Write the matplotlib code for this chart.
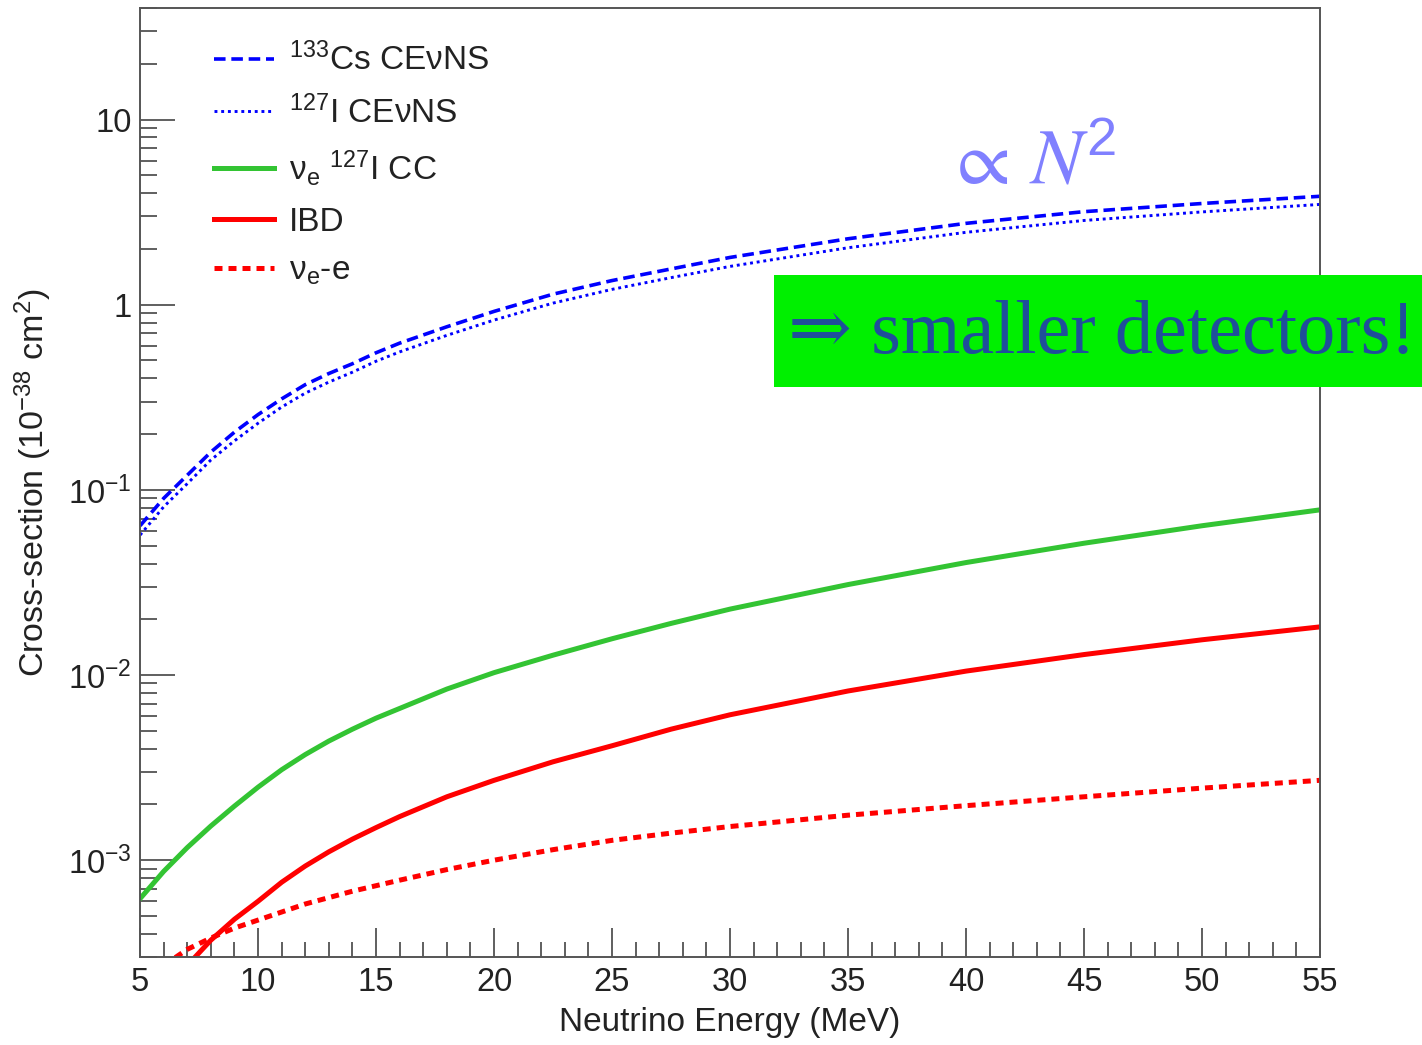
import matplotlib
matplotlib.use("Agg")
import matplotlib.pyplot as plt
from matplotlib.patches import Rectangle
from matplotlib.ticker import FixedLocator, LogLocator, MultipleLocator, NullFormatter

plt.rcParams['font.family'] = ['Liberation Sans', 'DejaVu Sans']
plt.rcParams['mathtext.fontset'] = 'custom'
plt.rcParams['mathtext.rm'] = 'Liberation Sans'
plt.rcParams['mathtext.it'] = 'Liberation Sans:italic'
plt.rcParams['mathtext.default'] = 'regular'

# cross-sections in units of 1e-38 cm^2 vs neutrino energy in MeV
energy = [5, 6, 7, 8, 9, 10, 11, 12, 13, 14, 15, 16, 18, 20, 22.5, 25, 27.5, 30,
          35, 40, 45, 50, 55]
cs_cevns = [0.064, 0.090, 0.120, 0.160, 0.205, 0.255, 0.31, 0.37, 0.425, 0.48, 0.55,
            0.62, 0.76, 0.92, 1.14, 1.35, 1.56, 1.80, 2.27, 2.75, 3.18, 3.52, 3.85]
i_cevns = [0.057, 0.081, 0.108, 0.145, 0.184, 0.229, 0.28, 0.333, 0.382, 0.432, 0.495,
           0.556, 0.683, 0.826, 1.02, 1.21, 1.40, 1.61, 2.03, 2.46, 2.85, 3.17, 3.48]
i_cc = [6.2e-4, 8.7e-4, 1.17e-3, 1.53e-3, 1.96e-3, 2.48e-3, 3.08e-3, 3.72e-3, 4.4e-3,
        5.1e-3, 5.85e-3, 6.6e-3, 8.4e-3, 1.03e-2, 1.28e-2, 1.57e-2, 1.9e-2, 2.27e-2,
        3.08e-2, 4.05e-2, 5.15e-2, 6.4e-2, 7.8e-2]

energy_ibd = [7, 8, 9, 10, 11, 12, 13, 14, 15, 16, 18, 20, 22.5, 25, 27.5, 30, 35, 40,
              45, 50, 55]
ibd = [2.7e-4, 3.7e-4, 4.8e-4, 6.0e-4, 7.6e-4, 9.3e-4, 1.11e-3, 1.3e-3, 1.5e-3, 1.72e-3,
       2.2e-3, 2.7e-3, 3.4e-3, 4.15e-3, 5.1e-3, 6.1e-3, 8.2e-3, 1.05e-2, 1.29e-2,
       1.55e-2, 1.82e-2]

energy_es = [6, 7, 8, 9, 10, 12, 14, 16, 18, 20, 22.5, 25, 27.5, 30, 35, 40, 45, 50, 55]
nue_e = [2.7e-4, 3.3e-4, 3.8e-4, 4.3e-4, 4.75e-4, 5.8e-4, 6.8e-4, 7.8e-4, 8.9e-4, 1.0e-3,
         1.14e-3, 1.28e-3, 1.40e-3, 1.52e-3, 1.75e-3, 1.97e-3, 2.2e-3, 2.45e-3, 2.7e-3]

ytick_vals = [1e-3, 1e-2, 1e-1, 1, 10]
ytick_labels = ['$10^{-3}$', '$10^{-2}$', '$10^{-1}$', '1', '10']

fig = plt.figure(figsize=(14.22, 10.45), dpi=100)
ax = fig.add_axes([0.0985, 0.0842, 0.8298, 0.9081])

ax.plot(energy, cs_cevns, color='#0000ff', lw=2.6, dashes=(3.2, 1.6),
        label=r'$^{133}$Cs CE$\nu$NS')
ax.plot(energy, i_cevns, color='#0000ff', lw=2.1, dashes=(1.0, 1.3),
        label=r'$^{127}$I CE$\nu$NS')
ax.plot(energy, i_cc, color='#33c433', lw=3.6, label=r'$\nu_e$ $^{127}$I CC')
ax.plot(energy_ibd, ibd, color='#ff0000', lw=3.6, label='IBD')
ax.plot(energy_es, nue_e, color='#ff0000', lw=3.6, dashes=(1.6, 1.2),
        label=r'$\nu_e$-e')

ax.set_yscale('log')
ax.set_xlim(5, 55)
ax.set_ylim(3.0e-4, 40)

ax.xaxis.set_major_locator(MultipleLocator(5))
ax.xaxis.set_minor_locator(MultipleLocator(1))
ax.yaxis.set_major_locator(FixedLocator(ytick_vals))
ax.set_yticklabels(ytick_labels)
ax.yaxis.set_minor_locator(LogLocator(base=10, subs=range(2, 10)))
ax.yaxis.set_minor_formatter(NullFormatter())

ax.tick_params(which='both', direction='in', top=False, right=False,
               color='#444444', width=1.2, labelsize=23.5, labelcolor='#222222')
ax.tick_params(axis='x', which='major', length=21, pad=7)
ax.tick_params(axis='x', which='minor', length=10.5)
ax.tick_params(axis='y', which='major', length=25, pad=6)
ax.tick_params(axis='y', which='minor', length=12)
for sp in ax.spines.values():
    sp.set_color('#555555')
    sp.set_linewidth(1.4)

ax.set_xlabel('Neutrino Energy (MeV)', fontsize=24, color='#222222', labelpad=7)
ax.set_ylabel('Cross-section (10$^{-38}$ cm$^{2}$)', fontsize=24.5, color='#222222',
              labelpad=10)

leg = ax.legend(loc='upper left', bbox_to_anchor=(0.037, 0.995), frameon=False,
                fontsize=24, handlelength=1.8, handletextpad=0.45, labelspacing=0.55,
                labelcolor='#222222')

ax.text(0.755, 0.836, r'$\propto\,\mathit{N}^2$', transform=ax.transAxes, fontsize=56,
        color='#8080ff', ha='center', va='center', math_fontfamily='stix')

# highlighted note, running past the frame to the right edge
fig.add_artist(Rectangle((774 / 1422, 1 - 387 / 1045), 648 / 1422, 112 / 1045,
                         transform=fig.transFigure, facecolor='#00f000',
                         edgecolor='none', zorder=5))
fig.text(1102 / 1422, 1 - 335 / 1045, '\u21d2 smaller detectors!', fontsize=55,
         family=['Liberation Serif', 'DejaVu Serif'], color='#1f4f9a',
         ha='center', va='center', zorder=6)

fig.savefig('out.png', dpi=100)
